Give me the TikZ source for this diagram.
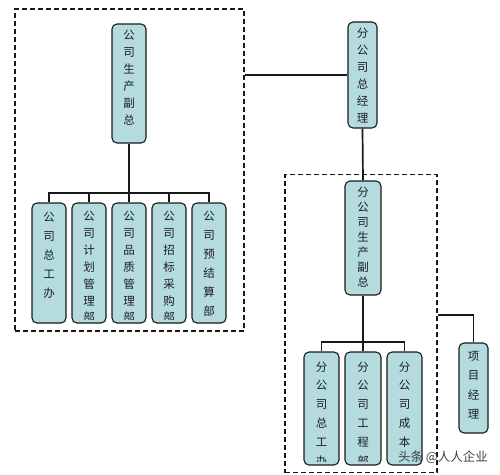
\documentclass[tikz,border=0pt]{standalone}
\usepackage{fontspec}
\newfontfamily\cjk{Noto Sans CJK SC}
\definecolor{boxfill}{RGB}{180,220,223}
\definecolor{txt}{RGB}{30,30,30}
\tikzset{
  box/.style={draw=black!90, line width=1.1pt, rounded corners=5pt, fill=boxfill, inner sep=0pt},
  dashbox/.style={draw=black!90, line width=1.1pt, dash pattern=on 5pt off 3pt, inner sep=0pt},
  conn/.style={draw=black!90, line width=1.7pt},
  boxtext/.style={anchor=north, align=center, inner sep=0pt, text=txt}
}
% #1 name, #2 x1, #3 y1, #4 x2, #5 y2, #6 line spacing, #7 gap to first text top, #8 text
\newcommand\orgnode[8]{%
  \pgfmathsetmacro\ow{#4-#2}\pgfmathsetmacro\oh{#5-#3}%
  \pgfmathsetmacro\ocx{(#2+#4)/2}\pgfmathsetmacro\ocy{-(#3+#5)/2}%
  \node[box, minimum width=\ow pt, minimum height=\oh pt] (#1) at (\ocx pt,\ocy pt) {};
  \begin{scope}
    \clip ([yshift=4pt]#1.south west) rectangle (#1.north east);
    \node[boxtext, font=\cjk\fontsize{11.5}{#6}\selectfont] (#1-t) at ([yshift=-#7pt]#1.north) {#8};
  \end{scope}}
\begin{document}
\begin{tikzpicture}
\useasboundingbox (0pt,0pt) rectangle (500pt,-474pt);
% dashed groups
\node[dashbox, minimum width=229pt, minimum height=322pt] (lgroup) at (129.5pt,-170pt) {};
\node[dashbox, minimum width=152pt, minimum height=298pt] (rgroup) at (361pt,-323.5pt) {};
% left group
\orgnode{lvp}{112}{24}{146}{143}{17.1}{6}{公\\司\\生\\产\\副\\总}
\orgnode{c1}{32}{203}{66}{323}{19}{9}{公\\司\\总\\工\\办}
\orgnode{c2}{72}{203}{106}{323}{16.9}{8.5}{公\\司\\计\\划\\管\\理\\部}
\orgnode{c3}{112}{203}{146}{323}{16.9}{8.5}{公\\司\\品\\质\\管\\理\\部}
\orgnode{c4}{152}{203}{186}{323}{16.9}{8.5}{公\\司\\招\\标\\采\\购\\部}
\orgnode{c5}{192}{203}{226}{323}{19}{8.5}{公\\司\\预\\结\\算\\部}
% general manager
\orgnode{gm}{348}{22}{377}{128}{17}{6}{分\\公\\司\\总\\经\\理}
% right group
\orgnode{rvp}{345}{181}{381}{295}{15}{6}{分\\公\\司\\生\\产\\副\\总}
\orgnode{d1}{304}{352}{339}{465}{18.8}{10}{分\\公\\司\\总\\工\\办}
\orgnode{d2}{345}{352}{381}{465}{18.8}{10}{分\\公\\司\\工\\程\\部}
\orgnode{d3}{387}{352}{422}{465}{18.8}{10}{分\\公\\司\\成\\本}
\orgnode{pm}{459}{343}{488}{433}{19.5}{8.5}{项\\目\\经\\理}
% connectors
\coordinate (lbus) at (129pt,-193pt);
\coordinate (rbus) at (363pt,-342pt);
\coordinate (pmturn) at (473.5pt,-315pt);
\draw[conn] (lvp.south) -- (lbus);
\foreach \c in {c1,c2,c3,c4,c5} \draw[conn] (lbus) -| (\c.north);
\draw[conn] (lgroup.east |- gm.west) -- (gm.west);
\draw[conn] (gm.south) -- (rvp.north);
\draw[conn] (rvp.south) -- (rbus);
\foreach \c in {d1,d2,d3} \draw[conn] (rbus) -| (\c.north);
\draw[conn] (rgroup.east |- pmturn) -- (pmturn) -- (pm.north);
% watermark
\node[font=\cjk\fontsize{12.5}{12.5}\selectfont, text=black!75, inner sep=0pt] (wm) at (443pt,-457pt) {头条 @人人企业};
\end{tikzpicture}
\end{document}
